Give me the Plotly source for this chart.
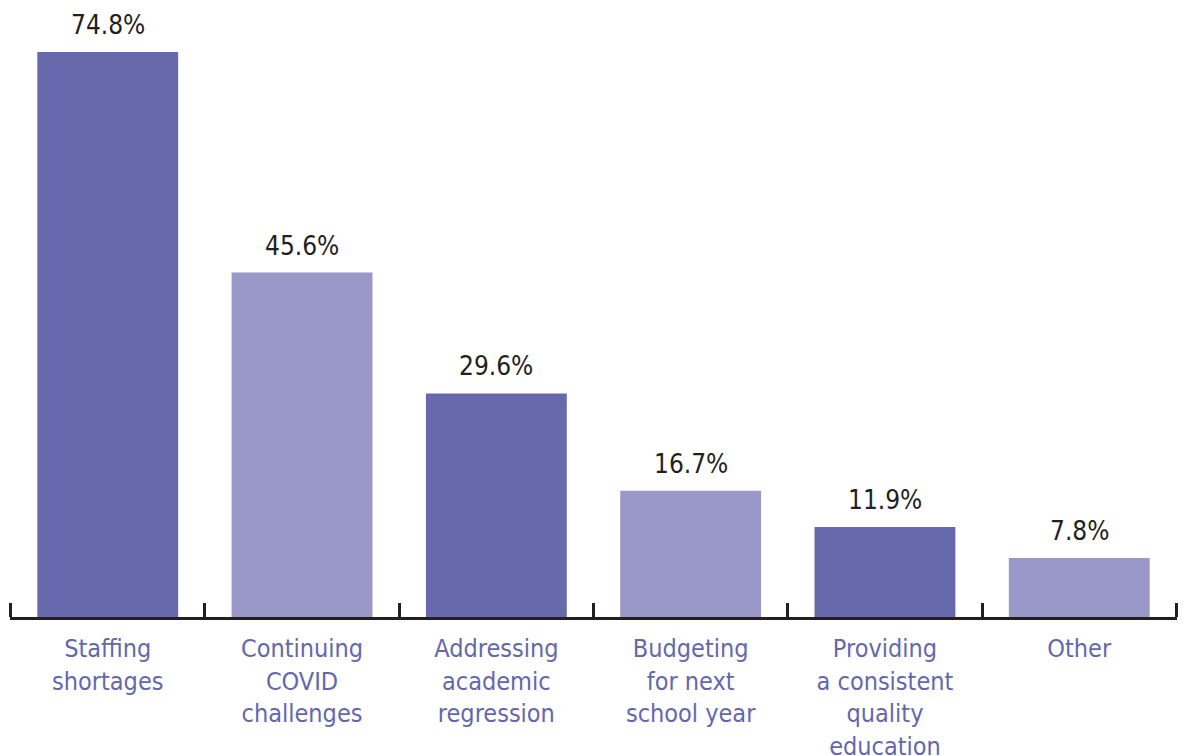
import plotly.graph_objects as go

categories = ["Staffing<br>shortages", "Continuing<br>COVID<br>challenges",
              "Addressing<br>academic<br>regression", "Budgeting<br>for next<br>school year",
              "Providing<br>a consistent<br>quality<br>education", "Other"]
values = [74.8, 45.6, 29.6, 16.7, 11.9, 7.8]
value_labels = ["74.8%", "45.6%", "29.6%", "16.7%", "11.9%", "7.8%"]
bar_colors = ["#6669AB", "#9A98C8", "#6669AB", "#9A98C8", "#6669AB", "#9A98C8"]

FONT = "DejaVu Sans Condensed, Liberation Sans Narrow, sans-serif"

pos = list(range(len(categories)))
bounds = [p - 0.5 for p in pos] + [pos[-1] + 0.5]

fig = go.Figure()
fig.add_trace(go.Bar(
    x=pos, y=values, marker=dict(color=bar_colors, line=dict(width=0)),
    width=0.725, hoverinfo="skip", showlegend=False,
))

for p, v, t in zip(pos, values, value_labels):
    fig.add_annotation(x=p, y=v, text=t, showarrow=False, yanchor="bottom",
                       yshift=10, font=dict(family=FONT, size=26, color="#231F20"))

# page body has an 8px margin, so the figure is sized to fit the window
fig.update_layout(
    width=1178, height=748,
    margin=dict(l=2, r=9, t=0, b=139, autoexpand=False),
    paper_bgcolor="white", plot_bgcolor="white",
)
fig.update_xaxes(
    tickmode="array", tickvals=pos, ticktext=categories, ticks="",
    minor=dict(tickmode="array", tickvals=bounds, ticks="inside", ticklen=14,
               tickwidth=2.5, tickcolor="#231F20", showgrid=False),
    showline=True, linecolor="#231F20", linewidth=3, zeroline=False,
    showgrid=False, tickfont=dict(family=FONT, size=25, color="#6467AC"),
    ticklabelstandoff=7, automargin=False, range=[-0.503, 5.503],
)
fig.update_yaxes(range=[0, 80.62], visible=False, showgrid=False, zeroline=False,
                 automargin=False)

fig.write_html("out.html")
